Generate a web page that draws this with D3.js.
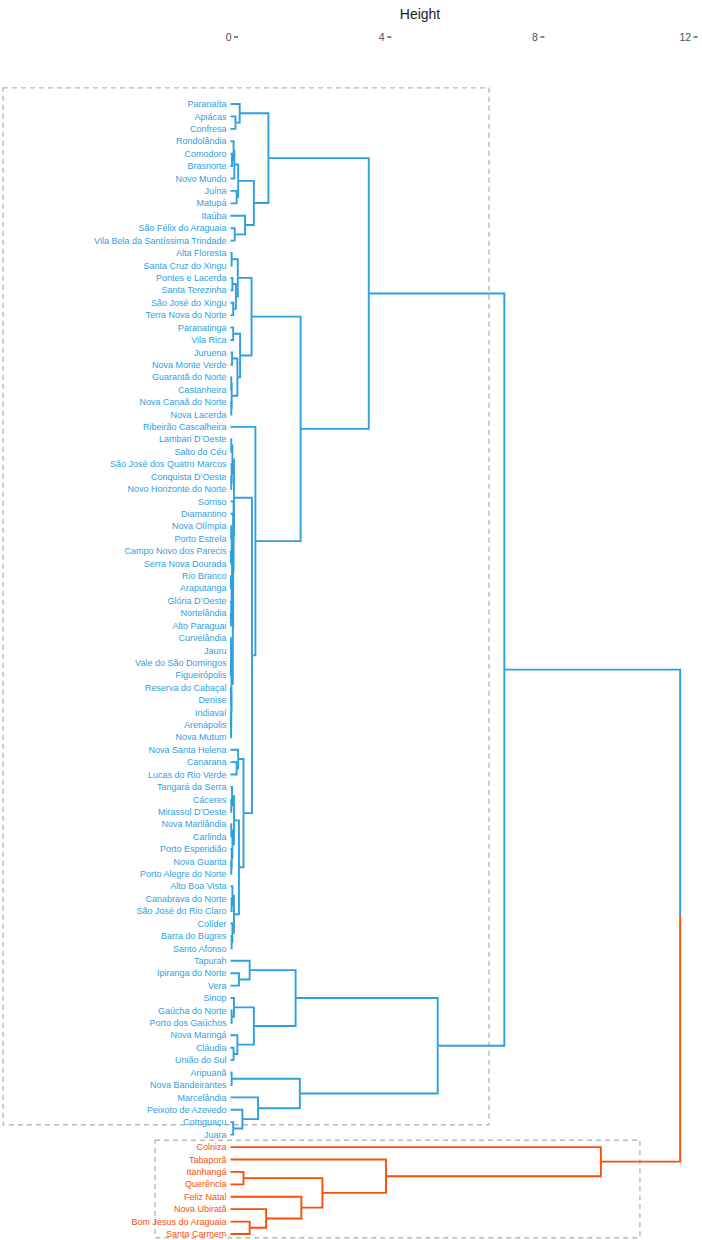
<!DOCTYPE html>
<html>
<head>
<meta charset="utf-8">
<script src="https://cdn.jsdelivr.net/npm/d3@7"></script>
<style>
  body { margin: 0; background: #fff; }
  svg { font-family: "Liberation Sans", Arial, sans-serif; }
</style>
</head>
<body>
<div id="chart"></div>
<script>
// Leaf labels, top to bottom
const labels = [
  'Paranaíta', 'Apiácas', 'Confresa', 'Rondolândia', 'Comodoro', 'Brasnorte',
  'Novo Mundo', 'Juína', 'Matupá', 'Itaúba', 'São Félix do Araguaia',
  'Vila Bela da Santíssima Trindade', 'Alta Floresta', 'Santa Cruz do Xingu',
  'Pontes e Lacerda', 'Santa Terezinha', 'São José do Xingu', 'Terra Nova do Norte',
  'Paranatinga', 'Vila Rica', 'Juruena', 'Nova Monte Verde', 'Guarantã do Norte',
  'Castanheira', 'Nova Canaã do Norte', 'Nova Lacerda', 'Ribeirão Cascalheira',
  'Lambari D’Oeste', 'Salto do Céu', 'São José dos Quatro Marcos', 'Conquista D’Oeste',
  'Novo Horizonte do Norte', 'Sorriso', 'Diamantino', 'Nova Olímpia', 'Porto Estrela',
  'Campo Novo dos Parecis', 'Serra Nova Dourada', 'Rio Branco', 'Araputanga',
  'Glória D’Oeste', 'Nortelândia', 'Alto Paraguai', 'Curvelândia', 'Jauru',
  'Vale do São Domingos', 'Figueirópolis', 'Reserva do Cabaçal', 'Denise', 'Indiavaí',
  'Arenápolis', 'Nova Mutum', 'Nova Santa Helena', 'Canarana', 'Lucas do Rio Verde',
  'Tangará da Serra', 'Cáceres', 'Mirassol D’Oeste', 'Nova Marilândia', 'Carlinda',
  'Porto Esperidião', 'Nova Guarita', 'Porto Alegre do Norte', 'Alto Boa Vista',
  'Canabrava do Norte', 'São José do Rio Claro', 'Colíder', 'Barra do Bugres',
  'Santo Afonso', 'Tapurah', 'Ipiranga do Norte', 'Vera', 'Sinop', 'Gaúcha do Norte',
  'Porto dos Gaúchos', 'Nova Maringá', 'Cláudia', 'União do Sul', 'Aripuanã',
  'Nova Bandeirantes', 'Marcelândia', 'Peixoto de Azevedo', 'Cotriguaçu', 'Juara',
  'Colniza', 'Tabaporã', 'Itanhangá', 'Querência', 'Feliz Natal', 'Nova Ubiratã',
  'Bom Jesus do Araguaia', 'Santa Carmem',
];

// hclust-style merges: negative = leaf number (1-based), positive = earlier merge step
const merge = [
  [-2, -3], [-1, 1], [-5, -6], [-4, 3], [4, -7], [-8, -9], [5, 6], [-11, -12],
  [-10, 8], [7, 9], [2, 10],
  [-13, -14], [-15, -16], [-17, -18], [13, 14], [12, 15], [-19, -20], [-21, -22],
  [-23, -24], [-25, -26], [19, 20], [18, 21], [17, 22], [16, 23],
  [-28, -29], [-31, -32], [-30, 26], [25, 27],
  [-35, -36], [-37, -38], [29, 30], [-39, -40], [-42, -43], [-41, 33], [32, 34], [31, 35],
  [-44, -45], [-46, -47], [37, 38], [-48, -49], [-50, -51], [41, -52], [40, 42], [39, 43],
  [36, 44], [-34, 45], [-33, 46], [28, 47],
  [-54, -55], [-53, 49], [-57, -58], [-56, 51], [-59, -60], [-62, -63], [-61, 54],
  [53, 55], [52, 56], [-65, -66], [-64, 58], [-68, -69], [-67, 60], [59, 61], [57, 62],
  [50, 63], [48, 64], [-27, 65], [24, 66], [11, 67],
  [-71, -72], [-70, 69], [-74, -75], [-73, 71], [-77, -78], [-76, 73], [72, 74],
  [70, 75], [-79, -80], [-83, -84], [-82, 78], [-81, 79], [77, 80], [76, 81], [68, 82],
  [-91, -92], [-90, 84], [-89, 85], [-87, -88], [87, 86], [-86, 88], [-85, 89],
  [83, 90],
];

// Merge heights, same order as merge
const height = [
  0.13, 0.24, 0.04, 0.08, 0.10, 0.16, 0.20, 0.11, 0.38, 0.61, 0.99,
  0.03, 0.05, 0.07, 0.14, 0.19, 0.07, 0.04, 0.02, 0.02, 0.03, 0.18, 0.25, 0.55,
  0.02, 0.02, 0.03, 0.05,
  0.02, 0.01, 0.03, 0.01, 0.01, 0.02, 0.03, 0.04,
  0.01, 0.01, 0.015, 0.01, 0.01, 0.015, 0.02, 0.025,
  0.06, 0.07, 0.08, 0.09,
  0.16, 0.20, 0.02, 0.04, 0.02, 0.02, 0.03, 0.05, 0.09, 0.03, 0.05, 0.03, 0.05, 0.09,
  0.22, 0.34, 0.56, 0.65, 1.83, 3.61,
  0.22, 0.50, 0.03, 0.09, 0.08, 0.18, 0.61, 1.70, 0.03, 0.07, 0.31, 0.72, 1.81, 5.41,
  7.15,
  0.50, 0.93, 1.85, 0.34, 2.40, 4.06, 9.67,
  11.74,
];

const tickValues = [0, 4, 8, 12];
const clusterColors = ['#2E9FDF', '#FC4E07'];

// Layout
const width = 702;
const fullHeight = 1240;

const x = d3.scaleLinear().domain([0, 12]).range([230.5, 690.1]);
const y = d3.scaleLinear().domain([1, labels.length]).range([104, 1234]);

// Build nodes from the merge table
const leaves = labels.map((name, i) => ({ name, idx: i + 1, h: 0, pos: y(i + 1) }));
const nodes = [];
const getNode = (k) => (k < 0 ? leaves[-k - 1] : nodes[k - 1]);
merge.forEach(([a, b], i) => {
  const children = [getNode(a), getNode(b)];
  nodes.push({
    children,
    h: height[i],
    pos: (children[0].pos + children[1].pos) / 2,
  });
});
const root = nodes[nodes.length - 1];

// Colour the two top clusters and collect their leaf ranges
function paint(node, color, cluster) {
  node.color = color;
  if (node.children) node.children.forEach((c) => paint(c, color, cluster));
  else cluster.push(node.idx);
}
const clusters = root.children.map((c, i) => {
  const members = [];
  paint(c, clusterColors[i], members);
  return { color: clusterColors[i], first: d3.min(members), last: d3.max(members) };
});

const svg = d3.select('#chart')
  .append('svg')
  .attr('width', width)
  .attr('height', fullHeight);

// Dashed cluster boxes
const boxes = [
  { x0: -5.94, x1: 6.75, padTop: 1.3, padBottom: -0.8 },
  { x0: -1.97, x1: 10.69, padTop: 0.55, padBottom: 0.3 },
];
clusters.forEach((c, i) => {
  const b = boxes[i];
  svg.append('rect')
    .attr('x', x(b.x0))
    .attr('y', y(c.first - b.padTop))
    .attr('width', x(b.x1) - x(b.x0))
    .attr('height', y(c.last + b.padBottom) - y(c.first - b.padTop))
    .attr('fill', 'none')
    .attr('stroke', '#b8b8b8')
    .attr('stroke-width', 1.4)
    .attr('stroke-dasharray', '5,4');
});

// Branches: one elbow per parent-child link
const links = [];
nodes.forEach((n) => n.children.forEach((c) => links.push({ p: n, c })));
svg.append('g')
  .selectAll('path')
  .data(links)
  .join('path')
  .attr('fill', 'none')
  .attr('stroke', (d) => d.c.color)
  .attr('stroke-width', 1.9)
  .attr('d', (d) => `M${x(d.p.h)},${d.p.pos}V${d.c.pos}H${x(d.c.h)}`);

// Leaf labels
svg.append('g')
  .selectAll('text')
  .data(leaves)
  .join('text')
  .attr('x', x(0) - 4)
  .attr('y', (d) => d.pos)
  .attr('dy', '0.35em')
  .attr('text-anchor', 'end')
  .attr('font-size', 9)
  .attr('fill', (d) => d.color)
  .text((d) => d.name);

// Height axis along the top
const axis = svg.append('g');
axis.selectAll('text')
  .data(tickValues)
  .join('text')
  .attr('x', (d) => x(d) + 1)
  .attr('y', 37)
  .attr('dy', '0.35em')
  .attr('text-anchor', 'end')
  .attr('font-size', 10.5)
  .attr('fill', '#4d4d4d')
  .text((d) => d);
axis.selectAll('line')
  .data(tickValues)
  .join('line')
  .attr('x1', (d) => x(d) + 3.5)
  .attr('x2', (d) => x(d) + 7.5)
  .attr('y1', 37)
  .attr('y2', 37)
  .attr('stroke', '#333')
  .attr('stroke-width', 1.2);

svg.append('text')
  .attr('x', 420)
  .attr('y', 14)
  .attr('dy', '0.35em')
  .attr('text-anchor', 'middle')
  .attr('font-size', 14)
  .attr('fill', '#1a1a1a')
  .text('Height');
</script>
</body>
</html>
